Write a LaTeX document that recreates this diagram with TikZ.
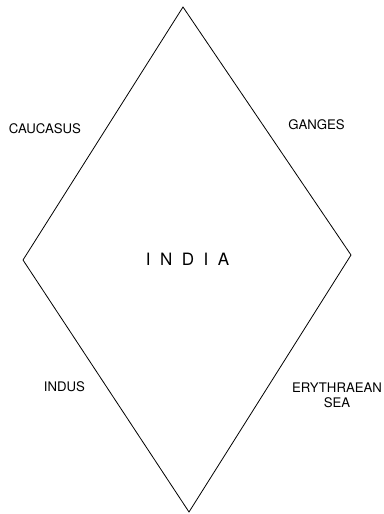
\documentclass[tikz,border=0pt]{standalone}
\usepackage{fontspec}
\setmainfont{TeX Gyre Heros}
\usetikzlibrary{positioning}

\begin{document}
\begin{tikzpicture}[x=1pt,y=-1pt,font=\fontsize{13.2}{15}\selectfont,
    region/.style={align=center,inner sep=0pt},
    border/.style={line width=.8pt,line join=miter}]
        \useasboundingbox (0,0) rectangle (383,514);

        \coordinate (north) at (183,7);
        \coordinate (east) at (351,255);
        \coordinate (south) at (189,512);
        \coordinate (west) at (23,260);
        \draw[border] (north) -- (east) -- (south) -- (west) -- cycle;

        \node[region,font=\fontsize{17}{20}\selectfont] (india) at (187.5,259)
          {I\kern9.5ptN\kern9.5ptD\kern9.5ptI\kern9.5ptA};

        \node[region] (caucasus) at (45,129) {CAUCASUS};
        \node[region] (ganges) at (316.5,125) {GANGES};
        \node[region] (indus) at (64.5,387) {INDUS};
        \node[region] (sea) at (337,395) {ERYTHRAEAN\\SEA};
      \end{tikzpicture}
\end{document}
